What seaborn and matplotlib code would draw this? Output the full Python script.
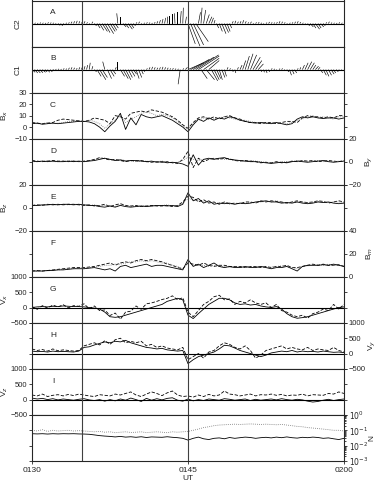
import numpy as np
import matplotlib
matplotlib.use("Agg")
import matplotlib.pyplot as plt
import seaborn as sns

# ---------------- data ----------------
t_min = np.arange(0, 30.01, 0.5)      # minutes after 0130 UT
t_stick = np.arange(0, 30.01, 0.25)
x_ticks = [0, 15, 30]
x_tick_labels = ["0130", "0145", "0200"]
event_lines = [4.8, 15.0]

# Panel A (C2) stick vectors
A_v = [0.02,0.03,0.02,0.04,0.03,0.02,0.05,0.04,0.03,-0.05,-0.08,-0.1,-0.06,0.03,0.05,0.08,0.1,0.12,0.1,0.08,
       0.1,0.05,-0.05,0.08,-0.1,-0.2,-0.3,-0.35,-0.4,-0.45,-0.35,-0.3,-0.2,0.45,0.3,-0.15,-0.2,-0.25,-0.2,-0.1,
       0.05,0.08,-0.05,0.03,0.05,0.04,0.02,0.06,0.1,0.15,0.2,0.25,0.3,0.35,0.4,0.45,0.5,0.55,0.7,0.3,
       -0.9,-1.0,-0.95,-0.8,0.5,0.7,0.6,0.4,0.3,0.25,0.15,-0.2,-0.35,-0.45,-0.4,-0.35,-0.2,0.1,0.12,0.08,
       0.1,0.15,0.1,0.05,0.08,-0.04,0.05,0.06,0.03,-0.05,0.04,0.07,0.05,0.04,0.06,0.1,0.08,0.05,-0.04,0.03,
       0.05,0.08,0.1,0.06,0.03,-0.05,-0.1,-0.15,-0.2,-0.25,-0.2,-0.15,-0.1,0.05,0.08,0.04,0.03,0.02,0.05,0.03,0.02]
A_u = [0.1,0.1,0.1,0.1,0.1,0.1,0.1,0.1,0.1,0.15,0.2,0.2,0.15,0.1,0.1,0.1,0.1,0.1,0.1,0.1,
       0.1,0.1,0.1,0.1,0.2,0.3,0.4,0.5,0.5,0.6,0.5,0.4,0.3,-0.1,0.0,0.3,0.3,0.4,0.3,0.2,
       0.1,0.1,0.1,0.1,0.1,0.1,0.1,0.1,0.1,0.1,0.1,0.1,0.05,0.0,0.0,-0.05,0.0,0.1,0.05,0.1,
       0.7,0.9,1.0,1.2,0.2,0.1,0.2,0.3,0.3,0.2,0.1,0.2,0.3,0.4,0.4,0.3,0.2,0.1,0.1,0.1,
       0.1,0.1,0.1,0.1,0.1,0.1,0.1,0.1,0.1,0.1,0.1,0.1,0.1,0.1,0.1,0.1,0.1,0.1,0.1,0.1,
       0.1,0.1,0.1,0.1,0.1,0.1,0.2,0.3,0.3,0.4,0.3,0.3,0.2,0.1,0.1,0.1,0.1,0.1,0.1,0.1,0.1]

# Panel B (C1) stick vectors
B_v = [-0.12,-0.15,-0.15,-0.14,-0.12,-0.1,-0.12,-0.1,-0.05,0.02,0.03,0.02,0.05,0.04,0.08,0.1,0.08,0.06,0.1,0.12,
       0.15,0.2,0.3,0.15,-0.1,-0.3,-0.45,-0.35,0.35,-0.4,-0.3,-0.2,0.1,0.35,-0.3,-0.4,-0.45,-0.35,-0.3,-0.2,
       -0.4,-0.35,-0.2,-0.1,0.05,0.1,0.12,0.1,0.08,0.1,0.12,0.1,0.08,0.05,0.06,0.04,0.03,-0.65,0.05,0.1,
       0.3,0.45,0.55,0.65,0.6,-0.4,0.5,-0.45,0.4,-0.5,-0.45,-0.4,-0.45,-0.35,-0.3,0.1,0.05,-0.1,-0.15,0.1,
       0.2,0.4,0.6,0.7,0.65,0.55,0.4,0.25,-0.1,-0.12,-0.15,-0.1,0.05,0.03,-0.05,0.04,0.05,-0.05,-0.1,-0.25,
       -0.2,-0.15,0.05,0.1,0.2,0.3,0.35,0.3,0.2,0.15,0.1,-0.15,-0.25,-0.3,-0.25,-0.2,-0.15,-0.1,-0.05,-0.05,-0.03]
B_u = [0.3,0.3,0.3,0.3,0.3,0.2,0.2,0.2,0.2,0.1,0.1,0.1,0.1,0.1,0.1,0.1,0.1,0.1,0.1,0.1,
       0.1,0.1,0.1,0.1,0.2,0.4,0.6,0.5,-0.2,0.4,0.4,0.3,0.1,0.0,0.4,0.5,0.5,0.4,0.4,0.3,
       0.3,0.3,0.2,0.1,0.1,0.1,0.1,0.1,0.1,0.1,0.1,0.1,0.1,0.1,0.1,0.1,0.1,-0.2,0.1,0.2,
       1.5,1.8,2.0,2.2,2.0,0.6,1.5,0.8,1.0,0.6,0.5,0.4,0.3,0.3,0.2,0.1,0.1,0.1,0.1,0.1,
       0.2,0.3,0.4,0.5,0.6,0.7,0.6,0.5,0.1,0.1,0.1,0.1,0.1,0.1,0.1,0.1,0.1,0.1,0.2,0.2,
       0.2,0.2,0.1,0.1,0.2,0.3,0.4,0.4,0.3,0.3,0.2,0.2,0.3,0.3,0.3,0.3,0.2,0.2,0.1,0.1,0.1]

# Panel C  Bx
Bx_1 = [3,3.5,2.5,3,3.5,3,3.5,4,4.5,5, 5,4.5,3,0,-4,1,5,12,-2,8, 2,11,9,8,9,10,8,6,3,0,
        -4,2,7,5,8,6,8,7,9,8, 6,5,4,3.5,4,3.5,3,4,3,2, 3,7,9,8,9,8,7.5,8,8,7,8]
Bx_2 = [4,3.5,3,3.5,4,6,7,6.5,6,5.5, 5,6,8,7,6,3,10,9,7,12, 13,14,13,15,14,13,11,9,6,2,
        -1,4,8,9,7,9,7,9,10,8, 7,5,4,4,3,4,4,3,4,5, 5,4,8,10,9,9,8,9,8,10,10]
Bx_3 = [3.5,3,3,4,3,3.5,4,5,5,5.5, 5,6,5,3,-1,3,6,10,4,7, 9,12,13,12,10,11,10,8,5,1,
        -2,3,6,8,8,7,8,9,8,7, 6,6,5,4,4,3,4,4,3,3, 4,6,7,9,10,8,9,8,7,9,9]

# Panel D  By
By_1 = [0.5,0,0.5,0,0.5,0,0,0.5,0,0.5, 0,0.5,1,2,3,2,1,1.5,0.5,1, 1,0.5,0,0.5,-0.5,0,-1,-0.5,-1,-2,
        -4,6,-3,2,3,2,3,3.5,2,1.5, 1,0.5,0,0,-0.5,-1,-1.5,-1,-0.5,-1, 0,0.5,0,-0.5,0,0.5,1,0,-0.5,0,0.5]
By_2 = [1,0.5,0,0.5,1,0.5,0.5,0,0.5,0, 0.5,1,2,3.5,2.5,1.5,2,1,0,1, 0.5,1,0,-0.5,0,-0.5,0,-1,-1.5,2,
        9,-5,3,0,2,3,2,3,2.5,1, 0.5,1,0.5,0,-1,-0.5,-1,0,-1,-0.5, 0.5,0,1,0.5,1,0,0.5,1,0.5,0,1]
By_3 = [0,0,0.5,1,0,0,0.5,0.5,1,0, 0,1,1.5,3,3,2,1.5,2,1,0.5, 0,0.5,0.5,0,0,0.5,-0.5,-1,-0.5,1,
        4,2,1,2,2,2.5,3,2,2,1, 1,0,1,0.5,0,-0.5,-1,-0.5,0,0, 0,1,0.5,0,0.5,1,0,0.5,0,0.5,0]

# Panel E  Bz
Bz_1 = [2,2,2.5,2.5,3,2.5,3,3,2.5,3, 2.5,2,2,1,0.5,1.5,0.5,2,1,0.5, 1,1.5,1,1.5,2,2,1.5,2,1,3,
        13,6,8,4,6,3,4,3.5,4,3, 4,3.5,4,5,5.5,6,5,5,4,4.5, 4,5,4,3.5,4,5,4.5,5,4,3.5,4]
Bz_2 = [2,2.5,2,3,2.5,3,2.5,3,3,2.5, 2,2.5,1.5,2,3,1,2.5,3.5,2,1.5, 2,1,1.5,2,1.5,1.5,2,1,2,5,
        10,9,5,7,4,5,3,5,3.5,4, 3.5,5,5,4,6,5,6,5.5,5,4, 5,6,5,4.5,5,6,5.5,4,5,6,5]
Bz_3 = [2.5,2,2,2.5,2.5,2.5,3,2.5,3,3, 2.5,2,2.5,1.5,2,2,1,2.5,2,1, 1.5,1.5,2,1,2,2,2.5,1.5,1.5,4,
        8,7,6,5,5,4,4,4.5,3,3.5, 4,4,4.5,4.5,5,5.5,5,6,4.5,4, 4.5,5,5,4,4.5,5.5,5,4.5,5,5,4.5]

# Panel F  Bm
Bm_1 = [5,5,5,5.5,5.5,6,6,6.5,7,7, 7,7.5,8,7,6,7,5,9,10,8, 9,10,11,9,10,10,9,8,7,6,
        15,9,11,8,10,12,9,8,9,8, 8,9,8,8,9,8,7,8,8,9, 7,5,9,10,10,10,10.5,10,11,10,9]
Bm_2 = [5,5.5,5,5.5,6,6.5,7,7.5,8,8, 8,8.5,9,10,11,12,10,12,13,12, 14,15,14,15,14,13,11,10,8,7,
        12,11,10,12,10,9,10,10,9,9, 9,8,9,9,8,9,8,9,9,10, 8,8,9,10,11,10,11,10,10,10.5,9]
Bm_3 = [5.5,5,5.5,5,6,6,6.5,7,7,7.5, 7.5,8,8.5,9,10,10,11,11,12,13, 13,14,13,14,13,12,12,10,9,7,
        13,10,10,10,9,10,9,9,8,8.5, 8.5,8,9,8.5,9,8,8.5,9,9.5,9, 8,7,9,9.5,10,10.5,10,11,10,10,9.5]

# Panel G  Vx
Vx_1 = [0,20,30,20,40,30,50,40,30,30, 20,0,-20,-50,-150,-300,-320,-300,-250,-200,
        -150,-100,-50,0,50,100,200,250,300,250, -250,-360,-200,-50,100,200,300,300,250,150,
        100,120,80,100,50,20,0,30,-50,-200, -300,-350,-330,-300,-250,-200,-150,-100,-50,0,20]
Vx_2 = [30,-60,60,-20,80,20,90,-10,60,40, 120,-40,50,-100,-80,-260,-180,-380,-150,-120,
        50,-60,120,150,200,260,300,380,250,320, -150,-300,-100,100,200,350,400,250,280,100,
        200,150,250,150,100,150,0,100,-100,-150, -250,-300,-250,-350,-200,-150,-50,-100,100,-50,100]

# Panel H  Vy
Vy_1 = [80,60,70,50,80,60,70,60,50,80, 200,220,280,330,380,350,400,380,430,350,
        300,250,200,180,150,170,120,100,80,100, -330,-200,-100,-50,0,50,150,270,250,180,
        100,50,0,-50,-100,-50,20,50,80,60, 100,50,80,60,70,50,80,60,40,50,30]
Vy_2 = [150,100,130,80,150,90,120,100,80,100, 250,300,350,280,420,300,450,500,350,400,
        350,400,250,300,200,250,180,150,120,200, -200,-100,0,-150,50,100,250,350,300,200,
        150,250,100,-150,-50,100,150,200,250,150, 200,150,120,200,100,150,120,100,200,100,50]

# Panel I  Vz
Vz_1 = [50,20,40,0,30,-10,20,0,-20,10, 30,-10,-30,0,-50,0,-40,20,-20,50,
        0,-60,40,-20,30,-10,40,60,-20,-50, 20,-40,0,-30,20,0,-20,30,10,-20,
        0,20,-30,10,-20,0,20,-10,30,0, -20,10,-10,-50,-80,-60,-20,10,-30,0,20]
Vz_2 = [150,120,180,100,140,160,120,170,130,180, 150,120,100,160,140,120,180,150,200,250,
        150,100,180,250,200,130,220,280,150,100, 120,80,150,100,170,120,150,280,180,160,
        120,150,180,120,160,150,180,140,170,120, 150,140,180,120,160,150,140,200,180,250,200]

# Panel J  N
N_1 = [0.06,0.058,0.06,0.057,0.06,0.058,0.06,0.059,0.06,0.058, 0.057,0.055,0.05,0.045,0.042,0.04,0.037,0.04,0.036,0.038,
       0.035,0.038,0.034,0.037,0.036,0.035,0.038,0.035,0.033,0.03, 0.023,0.03,0.036,0.028,0.025,0.03,0.032,0.028,0.034,0.03,
       0.033,0.036,0.034,0.03,0.033,0.035,0.032,0.036,0.033,0.037, 0.033,0.031,0.035,0.033,0.036,0.034,0.03,0.032,0.028,0.025,0.03]
N_2 = [0.1,0.09,0.11,0.085,0.1,0.09,0.095,0.1,0.09,0.095, 0.09,0.085,0.08,0.085,0.075,0.08,0.07,0.075,0.08,0.072,
       0.075,0.08,0.07,0.075,0.08,0.075,0.07,0.08,0.075,0.08, 0.085,0.1,0.12,0.15,0.17,0.2,0.22,0.23,0.24,0.25,
       0.24,0.25,0.26,0.25,0.24,0.25,0.24,0.23,0.24,0.22, 0.2,0.18,0.17,0.15,0.14,0.13,0.12,0.11,0.1,0.1,0.09]

# ---------------- figure ----------------
sns.set_style("ticks")
plt.rcParams["font.family"] = ["Liberation Sans", "DejaVu Sans"]
plt.rcParams["axes.linewidth"] = 0.8
plt.rcParams["xtick.major.size"] = 2.5
plt.rcParams["ytick.major.size"] = 2.5
plt.rcParams["ytick.minor.size"] = 1.5

fig, axes = plt.subplots(10, 1, figsize=(3.77, 4.82), dpi=100, sharex=True)
fig.subplots_adjust(left=32/377, right=344/377, top=1-0.5/482, bottom=1-461/482, hspace=0)

LW = 0.6
solid = dict(color="black", linewidth=LW)
dashed = dict(color="black", linewidth=LW, dashes=(4, 2))
dotted = dict(color="0.45", linewidth=LW, dashes=(1, 1.5))

def sticks(ax, u, v):
    ax.quiver(t_stick, np.zeros(len(t_stick)), u, v, angles="xy", scale_units="xy", scale=1,
              width=0.002, headwidth=0, headlength=0, headaxislength=0, color="black")
    ax.axhline(0, color="black", linewidth=0.8)
    ax.set_ylim(-1.02, 1.02)
    ax.set_yticks([])

def lines(ax, series, styles):
    for vals, st in zip(series, styles):
        kw = dict(st)
        d = kw.pop("dashes", None)
        l = sns.lineplot(x=t_min, y=vals, ax=ax, **kw)
        if d is not None:
            l.get_lines()[-1].set_dashes(d)

tick_fs = 5.5

ax = axes[0]; sticks(ax, A_u, A_v)
ax = axes[1]; sticks(ax, B_u, B_v)
ax = axes[2]; lines(ax, [Bx_2, Bx_3, Bx_1], [dashed, dotted, solid])
ax.set_ylim(-10, 30); ax.set_yticks([-10, 0, 10, 20, 30])
ax = axes[3]; lines(ax, [By_2, By_3, By_1], [dashed, dotted, solid])
ax.set_ylim(-20, 20); ax.set_yticks([-20, 0, 20])
ax = axes[4]; lines(ax, [Bz_2, Bz_3, Bz_1], [dashed, dotted, solid])
ax.set_ylim(-20, 20); ax.set_yticks([-20, 0, 20])
ax = axes[5]; lines(ax, [Bm_2, Bm_3, Bm_1], [dashed, dotted, solid])
ax.set_ylim(0, 40); ax.set_yticks([0, 20, 40])
ax = axes[6]; ax.axhline(0, color="black", linewidth=0.8)
lines(ax, [Vx_2, Vx_1], [dashed, solid])
ax.set_ylim(-500, 1000); ax.set_yticks([-500, 0, 500, 1000])
ax = axes[7]; ax.axhline(0, color="black", linewidth=0.8)
lines(ax, [Vy_2, Vy_1], [dashed, solid])
ax.set_ylim(-500, 1000); ax.set_yticks([-500, 0, 500, 1000])
ax = axes[8]; ax.axhline(0, color="black", linewidth=0.8)
lines(ax, [Vz_2, Vz_1], [dashed, solid])
ax.set_ylim(-500, 1000); ax.set_yticks([-500, 0, 500, 1000])
ax = axes[9]
lines(ax, [N_2, N_1], [dotted, solid])
ax.set_yscale("log"); ax.set_ylim(1e-3, 1e0)
ax.set_yticks([1e-3, 1e-2, 1e-1, 1e0])
ax.set_yticklabels([r"$10^{-3}$", r"$10^{-2}$", r"$10^{-1}$", r"$10^{0}$"])

letters = ["A", "B", "C", "D", "E", "F", "G", "H", "I", ""]
right_side = {3, 5, 7, 9}
ylabels = {0: "C2", 1: "C1", 2: r"B$_x$", 3: r"B$_y$", 4: r"B$_z$", 5: r"B$_m$",
           6: r"V$_x$", 7: r"V$_y$", 8: r"V$_z$", 9: "N"}
right_label_x = {3: 1.065, 5: 1.065, 7: 1.072, 9: 1.078}

for i, ax in enumerate(axes):
    ax.set_xlim(0, 30)
    for xv in event_lines:
        ax.axvline(xv, color="0.25", linewidth=0.8)
    for s in ax.spines.values():
        s.set_visible(True); s.set_linewidth(0.8)
    ax.tick_params(axis="y", labelsize=tick_fs, width=0.6, length=2.5, pad=1,
                   left=True, right=True, direction="out")
    ax.tick_params(axis="x", bottom=(i == 9), top=False, length=2.5, width=0.6)
    if letters[i]:
        ax.text(0.067, 0.73, letters[i], transform=ax.transAxes, fontsize=6, ha="center", va="center")
    if i in right_side:
        ax.yaxis.tick_right()
        ax.tick_params(axis="y", left=True, right=True, labelleft=False, labelright=True)
        ax.set_ylabel(ylabels[i], fontsize=6, rotation=90)
        ax.yaxis.set_label_position("right")
        ax.yaxis.set_label_coords(right_label_x[i], 0.5)
    else:
        ax.tick_params(axis="y", labelleft=True, labelright=False)
        ax.set_ylabel(ylabels[i], fontsize=6, rotation=90)
        xlab = -0.032 if i in (0, 1) else -0.072
        ax.yaxis.set_label_coords(xlab, 0.5)

axes[9].set_xticks(x_ticks)
axes[9].set_xticklabels(x_tick_labels, fontsize=6)
axes[9].tick_params(axis="x", pad=1.5)
axes[9].set_xlabel("UT", fontsize=6, labelpad=1)

fig.savefig("out.png", dpi=100)
